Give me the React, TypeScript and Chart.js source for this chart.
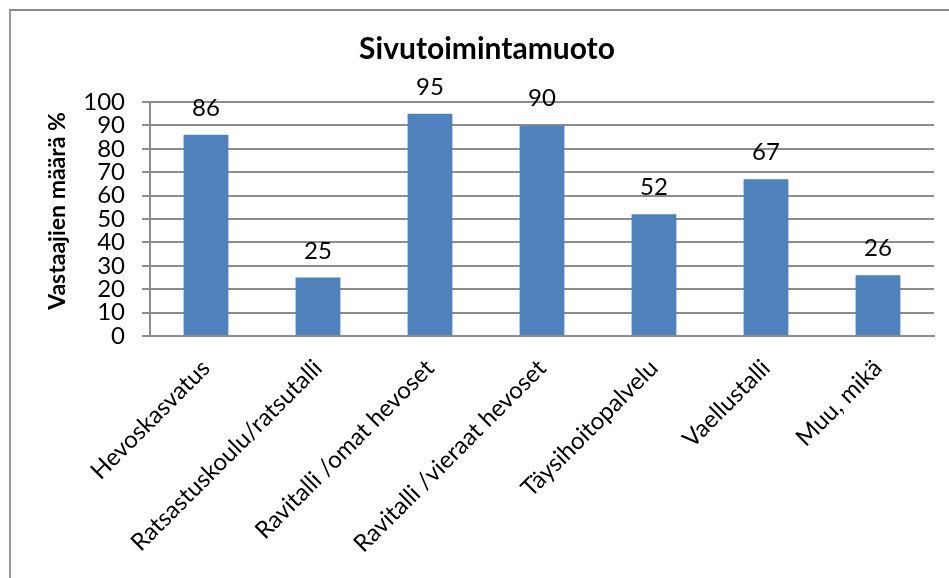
import { useEffect, useRef } from "react";
import { Chart, registerables } from "chart.js";

Chart.register(...registerables);

// Sivutoiminnat ja vastaajien osuus (%)
const categories = [
  "Hevoskasvatus",
  "Ratsastuskoulu/ratsutalli",
  "Ravitalli /omat hevoset",
  "Ravitalli /vieraat hevoset",
  "Täysihoitopalvelu",
  "Vaellustalli",
  "Muu, mikä",
];
const values = [86, 25, 95, 90, 52, 67, 26];

const yMin = 0;
const yMax = 100;
const yStep = 10;

const chartTitle = "Sivutoimintamuoto";
const yTitle = "Vastaajien määrä %";

const FONT = "Lato, 'Open Sans', sans-serif";
const BAR_COLOR = "#4F81BD";
const GRID_COLOR = "#8c8c8c";

// Arvot pylväiden yläpuolelle
const valueLabels = {
  id: "valueLabels",
  afterDatasetsDraw(chart: any) {
    const ctx = chart.ctx;
    const meta = chart.getDatasetMeta(0);
    ctx.save();
    ctx.font = `24px ${FONT}`;
    ctx.fillStyle = "#000";
    ctx.textAlign = "center";
    ctx.textBaseline = "alphabetic";
    meta.data.forEach((bar: any, i: number) => {
      ctx.fillText(String(values[i]), bar.x, bar.y - 19);
    });
    ctx.restore();
  },
};

// Pystyakselin otsikko, hieman kuva-alueen keskikohdan yläpuolella
const yAxisTitle = {
  id: "yAxisTitle",
  afterDraw(chart: any) {
    const ctx = chart.ctx;
    const area = chart.chartArea;
    ctx.save();
    ctx.translate(46.5, (area.top + area.bottom) / 2 - 8);
    ctx.rotate(-Math.PI / 2);
    ctx.font = `bold 23px ${FONT}`;
    ctx.fillStyle = "#000";
    ctx.textAlign = "center";
    ctx.textBaseline = "middle";
    ctx.fillText(yTitle, 0, 0);
    ctx.restore();
  },
};

export default function App() {
  const canvasRef = useRef<HTMLCanvasElement | null>(null);

  useEffect(() => {
    const canvas = canvasRef.current;
    if (!canvas) return;
    const chart = new Chart(canvas, {
      type: "bar",
      data: {
        labels: categories,
        datasets: [
          {
            data: values,
            backgroundColor: BAR_COLOR,
            barPercentage: 0.4,
            categoryPercentage: 1,
          },
        ],
      },
      options: {
        animation: false,
        responsive: false,
        maintainAspectRatio: false,
        layout: { padding: { left: 29, right: 29, top: 0, bottom: 0 } },
        plugins: {
          legend: { display: false },
          tooltip: { enabled: false },
          title: {
            display: true,
            text: chartTitle,
            color: "#000",
            font: { family: FONT, size: 30, weight: "bold" },
            padding: { top: 20, bottom: 35 },
          },
        },
        scales: {
          x: {
            grid: { display: false, drawTicks: false },
            border: { display: true, color: GRID_COLOR, width: 2 },
            ticks: {
              color: "#000",
              font: { family: FONT, size: 24 },
              maxRotation: 45,
              minRotation: 45,
              autoSkip: false,
              padding: 18,
            },
            afterFit(scale: any) {
              scale.height = 242;
            },
          },
          y: {
            min: yMin,
            max: yMax,
            ticks: {
              stepSize: yStep,
              autoSkip: false,
              color: "#000",
              font: { family: FONT, size: 24 },
              padding: 17,
            },
            grid: {
              color: GRID_COLOR,
              lineWidth: 2,
              tickLength: 8,
              drawTicks: true,
            },
            border: { display: true, color: GRID_COLOR, width: 2 },
            afterFit(scale: any) {
              scale.width = 110;
            },
          },
        },
      },
      plugins: [valueLabels, yAxisTitle],
    });
    return () => chart.destroy();
  }, []);

  return (
    <div
      style={{
        position: "fixed",
        left: 0,
        top: 0,
        width: 949,
        height: 578,
        overflow: "hidden",
        background: "#fff",
      }}
    >
      <div
        style={{
          position: "absolute",
          left: 9,
          top: 9,
          width: 960,
          height: 600,
          borderTop: "2px solid #8a8a8a",
          borderLeft: "2px solid #9a9a9a",
        }}
      >
        <canvas ref={canvasRef} width={952} height={567} style={{ display: "block" }} />
      </div>
    </div>
  );
}
